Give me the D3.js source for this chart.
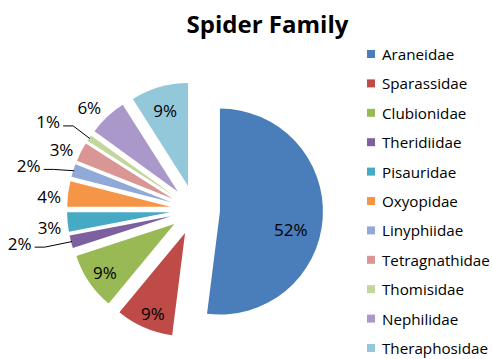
<!DOCTYPE html>
<html>
<head>
<meta charset="utf-8">
<script src="https://cdn.jsdelivr.net/npm/d3@7"></script>
<style>
  html, body { margin: 0; padding: 0; background: #fff; }
  svg { display: block; font-family: "Open Sans", sans-serif; }
</style>
</head>
<body>
<svg id="chart" width="492" height="359"></svg>
<script>
// ---- data ----
const families = ["Araneidae", "Sparassidae", "Clubionidae", "Theridiidae", "Pisauridae",
  "Oxyopidae", "Linyphiidae", "Tetragnathidae", "Thomisidae", "Nephilidae", "Theraphosidae"];
const shares = [52, 9, 9, 2, 3, 4, 2, 3, 1, 6, 9];
const shareLabels = ["52%", "9%", "9%", "2%", "3%", "4%", "2%", "3%", "1%", "6%", "9%"];
const title = "Spider Family";

// ---- style / layout ----
const colors = ["#4A7EBB", "#BE4B48", "#98B954", "#7D60A0", "#46AAC5", "#F69546",
  "#91A9D8", "#DA9694", "#C3D69B", "#A998C9", "#93C8DB"];
const labelRadius = [0.71, 0.84, 0.82, 1.49, 1.18, 1.18, 1.43, 1.18, 1.42, 1.19, 0.77];
const labelShift = [10.6, -1.6, -0.6, 4.3, -1.7, -2.5, -3.5, -3.2, -3.8, -3.1, -0.6];
const hasLeader = [false, false, false, true, false, false, true, false, true, false, false];

const cx = 195, cy = 210, R = 103, explode = 25;

const svg = d3.select("#chart");

svg.append("text")
  .attr("x", 267.5).attr("y", 33)
  .attr("text-anchor", "middle")
  .attr("font-size", 24).attr("font-weight", "bold")
  .attr("fill", "#000")
  .text(title);

const pie = d3.pie().sort(null).value(d => d)
  .startAngle(0).endAngle(2 * Math.PI);
const arcs = pie(shares);
const arc = d3.arc().innerRadius(0).outerRadius(R);

const toRad = Math.PI / 180;
const g = svg.append("g").attr("transform", `translate(${cx},${cy})`);

const slices = g.selectAll("g.slice").data(arcs).enter().append("g")
  .attr("class", "slice")
  .attr("transform", d => {
    const a = (d.startAngle + d.endAngle) / 2;
    return `translate(${explode * Math.sin(a)},${-explode * Math.cos(a)})`;
  });

slices.append("path")
  .attr("d", arc)
  .attr("fill", (d, i) => colors[i]);

slices.each(function(d, i) {
  const sel = d3.select(this);
  const mid = (d.startAngle + d.endAngle) / 2;
  const a = mid + labelShift[i] * toRad;
  const r = labelRadius[i] * R;
  const lx = r * Math.sin(a), ly = -r * Math.cos(a);
  sel.append("text")
    .attr("x", lx).attr("y", ly)
    .attr("text-anchor", "middle")
    .attr("dominant-baseline", "central")
    .attr("font-size", 17)
    .attr("fill", "#000")
    .text(shareLabels[i]);
  if (hasLeader[i]) {
    const ex = (R - 1) * Math.sin(mid), ey = -(R - 1) * Math.cos(mid);
    const sx = lx + 15, sy = ly + 4;
    sel.append("path")
      .attr("d", `M${sx},${sy}L${sx + 10},${sy}L${ex},${ey}`)
      .attr("fill", "none")
      .attr("stroke", "#000")
      .attr("stroke-width", 1);
  }
});

// legend
const legend = svg.append("g");
const lgY = d3.scalePoint().domain(families).range([54, 348]);
const items = legend.selectAll("g").data(families).enter().append("g")
  .attr("transform", d => `translate(367,${lgY(d)})`);
items.append("rect")
  .attr("x", 0).attr("y", -4).attr("width", 8).attr("height", 8)
  .attr("fill", (d, i) => colors[i]);
items.append("text")
  .attr("x", 15).attr("y", 0)
  .attr("dominant-baseline", "central")
  .attr("font-size", 15.2)
  .attr("fill", "#000")
  .text(d => d);
</script>
</body>
</html>
